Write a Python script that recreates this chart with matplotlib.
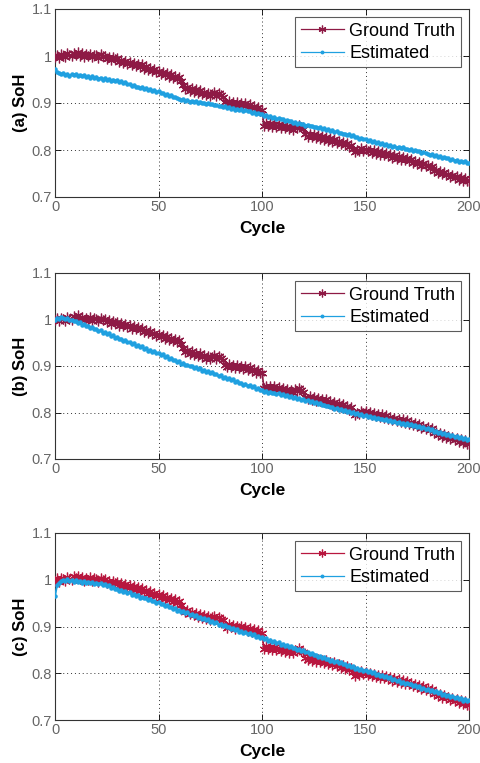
import numpy as np
import matplotlib
matplotlib.use("Agg")
import matplotlib.pyplot as plt

plt.rcParams['font.family'] = ['Liberation Sans', 'DejaVu Sans']

cycles = list(range(0, 201))

# Ground truth SoH (x1000), identical in all panels
ground_truth = [
    998, 1003, 996, 1004, 1001, 997, 1006, 1002, 999, 1007,
    1003, 1009, 1001, 1006, 998, 1004, 1000, 1005, 997, 1003,
    1002, 996, 1004, 999, 1001, 994, 998, 991, 997, 993,
    995, 987, 992, 985, 990, 983, 988, 980, 986, 979,
    984, 977, 982, 973, 978, 970, 975, 968, 972, 965,
    969, 962, 967, 959, 964, 956, 961, 953, 958, 951,
    955, 947, 938, 930, 935, 926, 932, 924, 929, 921,
    927, 919, 924, 916, 922, 914, 920, 923, 915, 921,
    917, 913, 903, 897, 905, 898, 903, 895, 902, 896,
    901, 894, 899, 891, 897, 889, 894, 886, 892, 884,
    886, 852, 858, 851, 857, 850, 856, 849, 855, 847,
    853, 846, 851, 844, 849, 843, 850, 847, 853, 848,
    845, 833, 828, 835, 827, 833, 825, 831, 824, 829,
    822, 828, 820, 825, 817, 823, 815, 820, 812, 818,
    810, 815, 806, 811, 802, 795, 800, 797, 804, 798,
    803, 797, 801, 794, 799, 792, 797, 790, 796, 789,
    794, 787, 791, 784, 789, 781, 787, 779, 785, 778,
    783, 776, 780, 773, 777, 770, 775, 767, 772, 765,
    769, 762, 766, 755, 758, 751, 756, 748, 753, 746,
    750, 743, 747, 740, 745, 737, 742, 735, 740, 733,
    733,
]

estimated_a = [
    972, 966, 963, 961, 964, 960, 962, 958, 961, 959,
    962, 958, 960, 957, 959, 955, 958, 954, 957, 953,
    956, 952, 954, 950, 953, 949, 951, 947, 950, 946,
    948, 944, 946, 942, 944, 940, 941, 937, 938, 934,
    935, 931, 933, 930, 931, 928, 929, 926, 927, 924,
    925, 921, 922, 918, 919, 915, 916, 912, 913, 910,
    909, 906, 908, 905, 907, 903, 905, 902, 904, 901,
    903, 899, 901, 898, 900, 897, 898, 895, 896, 893,
    894, 891, 893, 889, 891, 888, 890, 886, 888, 885,
    887, 883, 885, 882, 883, 879, 881, 877, 879, 876,
    877, 873, 875, 871, 873, 869, 870, 866, 868, 865,
    866, 862, 864, 861, 862, 858, 860, 856, 858, 855,
    856, 852, 854, 851, 852, 848, 850, 846, 848, 845,
    846, 842, 844, 841, 842, 838, 840, 836, 837, 834,
    835, 831, 833, 829, 831, 827, 828, 824, 826, 823,
    824, 820, 822, 818, 819, 815, 817, 813, 815, 811,
    812, 809, 811, 807, 809, 805, 807, 804, 806, 802,
    803, 800, 802, 798, 800, 797, 798, 794, 796, 793,
    792, 789, 791, 787, 789, 785, 787, 784, 785, 782,
    782, 779, 781, 777, 779, 775, 777, 774, 776, 773,
    772,
]

estimated_b = [
    1000, 1004, 1002, 1006, 1003, 1001, 1004, 999, 1000, 996,
    997, 992, 994, 989, 990, 985, 987, 982, 984, 979,
    980, 975, 977, 972, 973, 968, 970, 964, 966, 961,
    962, 957, 959, 954, 956, 951, 952, 947, 949, 944,
    945, 940, 942, 937, 938, 933, 935, 930, 932, 927,
    929, 924, 925, 920, 921, 916, 917, 912, 913, 908,
    910, 905, 907, 902, 903, 899, 901, 896, 898, 893,
    895, 890, 892, 887, 889, 885, 887, 882, 883, 878,
    880, 875, 877, 872, 874, 869, 871, 866, 868, 863,
    864, 860, 862, 857, 859, 854, 856, 851, 852, 848,
    849, 845, 847, 843, 845, 841, 843, 839, 841, 837,
    839, 835, 837, 833, 835, 831, 833, 829, 831, 827,
    829, 825, 827, 823, 825, 821, 822, 818, 820, 816,
    817, 813, 815, 811, 812, 808, 810, 806, 808, 804,
    805, 801, 803, 799, 801, 797, 799, 795, 796, 792,
    794, 790, 792, 788, 790, 787, 789, 785, 787, 783,
    786, 782, 784, 780, 782, 778, 780, 776, 778, 774,
    777, 773, 775, 771, 773, 769, 771, 767, 769, 765,
    766, 762, 764, 759, 761, 756, 758, 753, 756, 751,
    753, 749, 751, 747, 749, 745, 747, 743, 745, 741,
    742,
]

estimated_c = [
    965, 988, 994, 997, 1000, 998, 1001, 997, 1000, 996,
    999, 995, 998, 994, 997, 993, 996, 992, 995, 991,
    994, 990, 993, 988, 991, 986, 988, 983, 985, 980,
    981, 977, 979, 974, 976, 971, 973, 968, 970, 966,
    967, 962, 964, 960, 962, 957, 958, 954, 955, 951,
    952, 948, 949, 944, 946, 941, 942, 938, 939, 934,
    936, 931, 933, 928, 930, 925, 927, 922, 924, 919,
    921, 916, 918, 913, 915, 910, 912, 907, 909, 904,
    906, 901, 903, 898, 900, 895, 897, 892, 894, 889,
    891, 887, 889, 884, 886, 881, 883, 878, 880, 876,
    878, 874, 875, 870, 872, 867, 869, 864, 866, 861,
    863, 859, 861, 856, 858, 853, 855, 850, 852, 848,
    849, 845, 846, 841, 843, 838, 840, 835, 837, 832,
    834, 830, 831, 827, 829, 824, 826, 821, 823, 819,
    820, 816, 818, 813, 815, 810, 812, 807, 809, 805,
    807, 803, 805, 800, 802, 797, 799, 794, 796, 792,
    794, 789, 791, 786, 788, 783, 785, 780, 782, 778,
    780, 776, 778, 773, 775, 770, 772, 767, 769, 765,
    767, 763, 765, 760, 762, 757, 759, 754, 756, 752,
    754, 750, 752, 747, 749, 744, 746, 741, 744, 740,
    742,
]

panel_labels = ["(a) SoH", "(b) SoH", "(c) SoH"]
estimates = [estimated_a, estimated_b, estimated_c]
gt_colors = ["#8E1A45", "#8E1A45", "#B8173F"]
est_color = "#1FA0E0"
x_ticks = [0, 50, 100, 150, 200]
y_ticks = [0.7, 0.8, 0.9, 1.0, 1.1]
y_tick_labels = ["0.7", "0.8", "0.9", "1", "1.1"]

fig = plt.figure(figsize=(4.8, 7.63), dpi=100)
W, H = 480.0, 763.0
boxes = [(9, 197), (273, 459), (533, 720)]
x = np.array(cycles)
gt = np.array(ground_truth) / 1000.0

for i, (top, bot) in enumerate(boxes):
    ax = fig.add_axes([55 / W, 1 - bot / H, (469 - 55) / W, (bot - top) / H])
    ax.plot(x, gt, color=gt_colors[i], marker=(6, 2, 0), markersize=7, linewidth=1.2,
            markeredgewidth=0.9, label="Ground Truth", zorder=3)
    ax.plot(x, np.array(estimates[i]) / 1000.0, color=est_color, marker='.',
            markersize=4.5, linewidth=1.4, label="Estimated", zorder=4)
    ax.set_xlim(0, 200)
    ax.set_ylim(0.7, 1.1)
    ax.set_xticks(x_ticks)
    ax.set_yticks(y_ticks)
    ax.set_yticklabels(y_tick_labels)
    ax.grid(True, linestyle=(0, (1, 3)), color='#333333', linewidth=0.7)
    ax.tick_params(direction='in', top=True, right=True, labelsize=10.5,
                   labelcolor='#666666', length=4, width=0.6, pad=2)
    for s in ax.spines.values():
        s.set_linewidth(0.8)
        s.set_color('#333333')
    ax.set_ylabel(panel_labels[i], fontsize=12, fontweight='bold', labelpad=3)
    ax.set_xlabel("Cycle", fontsize=12.5, fontweight='bold', labelpad=5)
    leg = ax.legend(loc='upper right', fontsize=13, frameon=True, fancybox=False,
                    edgecolor='#333333', borderpad=0.3, handlelength=2.4,
                    handletextpad=0.3, labelspacing=0.3, borderaxespad=0.45,
                    markerscale=0.8)
    leg.get_frame().set_linewidth(0.8)
    for h in leg.get_lines():
        h.set_linewidth(0.9)

fig.savefig("out.png", dpi=100)
